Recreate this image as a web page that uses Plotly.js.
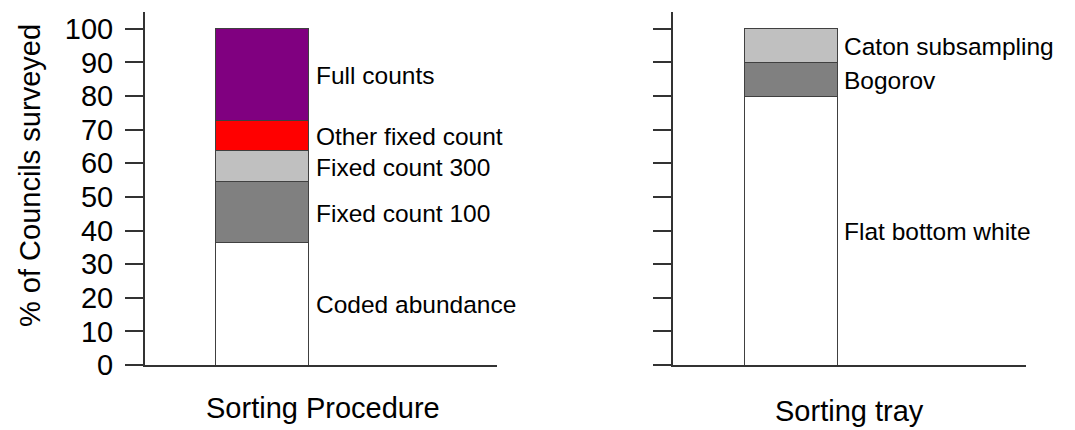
<!DOCTYPE html>
<html>
<head>
<meta charset="utf-8">
<script src="https://cdn.plot.ly/plotly-3.0.1.min.js"></script>
<style>html,body{margin:0;padding:0;background:#fff;}#chart{width:1075px;height:430px;}</style>
</head>
<body>
<div id="chart"></div>
<script>
// ---- data ----
const procedureCategories = ["Coded abundance", "Fixed count 100", "Fixed count 300", "Other fixed count", "Full counts"];
const procedureValues = [36.4, 18.2, 9.1, 9.1, 27.3];
const trayCategories = ["Flat bottom white", "Bogorov", "Caton subsampling"];
const trayValues = [80, 10, 10];
const yTickValues = [0, 10, 20, 30, 40, 50, 60, 70, 80, 90, 100];
const panelTitles = ["Sorting Procedure", "Sorting tray"];
const yTitle = "% of Councils surveyed";

// ---- styles ----
const procedureColors = ["#FFFFFF", "#808080", "#C0C0C0", "#FF0000", "#800080"];
const trayColors = ["#FFFFFF", "#808080", "#C0C0C0"];
const FONT = "Liberation Sans, Arial, Helvetica, sans-serif";
const W = 1075, H = 430;
const barWidth = 0.79;
const lineCol = "#404040";

const traces = [];
const annotations = [];

function addStack(cats, vals, cols, xa, ya) {
  let base = 0;
  cats.forEach((c, i) => {
    traces.push({
      type: "bar", x: [0], y: [vals[i]], name: c,
      xaxis: xa, yaxis: ya, width: barWidth,
      marker: {color: cols[i], line: {color: lineCol, width: 1}},
      hoverinfo: "name+y", showlegend: false
    });
    annotations.push({
      xref: xa, yref: ya, x: barWidth / 2, y: base + vals[i] / 2,
      xanchor: "left", yanchor: "middle", xshift: 5, yshift: -1, showarrow: false,
      text: c, font: {family: FONT, size: 24.5, color: "#000"}
    });
    base += vals[i];
  });
}
addStack(procedureCategories, procedureValues, procedureColors, "x", "y");
addStack(trayCategories, trayValues, trayColors, "x2", "y2");

// axis titles as paper annotations
annotations.push({xref: "paper", yref: "paper", x: 323 / W, y: 1 - 408 / H, xanchor: "center", yanchor: "middle",
  showarrow: false, text: panelTitles[0], font: {family: FONT, size: 29, color: "#000"}});
annotations.push({xref: "paper", yref: "paper", x: 849 / W, y: 1 - 411 / H, xanchor: "center", yanchor: "middle",
  showarrow: false, text: panelTitles[1], font: {family: FONT, size: 29, color: "#000"}});
annotations.push({xref: "paper", yref: "paper", x: 30 / W, y: 1 - 176 / H, xanchor: "center", yanchor: "middle",
  textangle: -90, showarrow: false, text: yTitle, font: {family: FONT, size: 29, color: "#000"}});

const yDomain = [65 / H, 1 - 12 / H];
const xAxisCommon = {range: [-1, 2], showgrid: false, zeroline: false, showline: true, linecolor: "#333",
  linewidth: 2, ticks: "", showticklabels: false, fixedrange: true};
const yAxisCommon = {range: [0, 105], showgrid: false, zeroline: false, showline: true, linecolor: "#333",
  linewidth: 2, ticks: "outside", ticklen: 18, tickwidth: 2, tickcolor: "#333",
  tickmode: "array", tickvals: yTickValues, fixedrange: true};

const layout = {
  width: W, height: H,
  margin: {l: 0, r: 0, t: 0, b: 0},
  paper_bgcolor: "#fff", plot_bgcolor: "rgba(0,0,0,0)",
  barmode: "stack", bargap: 0,
  font: {family: FONT, color: "#000"},
  xaxis: Object.assign({}, xAxisCommon, {domain: [145 / W, 497 / W], anchor: "y"}),
  xaxis2: Object.assign({}, xAxisCommon, {domain: [673 / W, 1026 / W], anchor: "y2"}),
  yaxis: Object.assign({}, yAxisCommon, {domain: yDomain, anchor: "x", showticklabels: true,
    ticktext: yTickValues.map(String), tickfont: {family: FONT, size: 29, color: "#000"}, ticklabelstandoff: 6}),
  yaxis2: Object.assign({}, yAxisCommon, {domain: yDomain, anchor: "x2", showticklabels: false}),
  annotations: annotations,
  showlegend: false
};

Plotly.newPlot("chart", traces, layout, {displayModeBar: false, staticPlot: true});
</script>
</body>
</html>
